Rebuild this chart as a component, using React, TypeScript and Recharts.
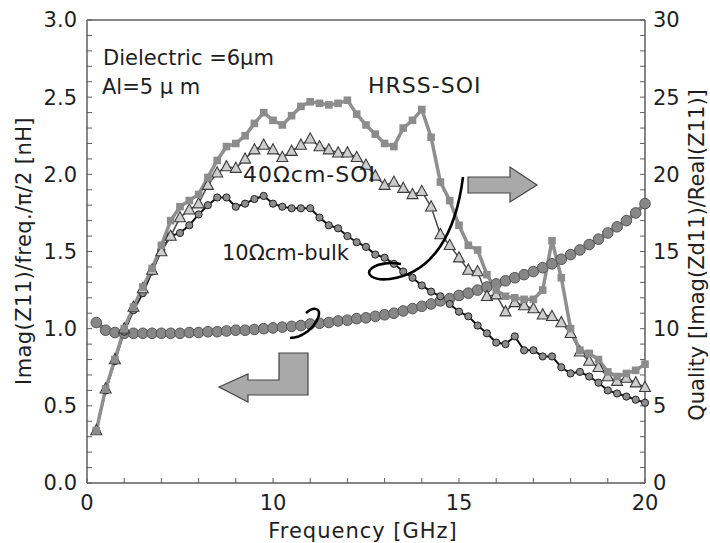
import React from 'react';
import { LineChart, Line, XAxis, YAxis, ReferenceLine } from 'recharts';

// x position along the axis (axis has 15 minor divisions, labelled 0 / 10 / 15 / 20)
const xPos = [
  0.25, 0.5, 0.75, 1.0, 1.25, 1.5, 1.75, 2.0, 2.25, 2.5, 2.75, 3.0, 3.25, 3.5, 3.75,
  4.0, 4.25, 4.5, 4.75, 5.0, 5.25, 5.5, 5.75, 6.0, 6.25, 6.5, 6.75, 7.0, 7.25, 7.5,
  7.75, 8.0, 8.25, 8.5, 8.75, 9.0, 9.25, 9.5, 9.75, 10.0, 10.25, 10.5, 10.75, 11.0, 11.25,
  11.5, 11.75, 12.0, 12.25, 12.5, 12.75, 13.0, 13.25, 13.5, 13.75, 14.0, 14.25, 14.5, 14.75, 15.0,
];
const xTickValues = [0, 1, 2, 3, 4, 5, 6, 7, 8, 9, 10, 11, 12, 13, 14, 15];
const xTickLabels: Record<number, string> = { 0: '0', 5: '10', 10: '15', 15: '20' };

// Imag(Z11)/freq./pi/2 [nH]
const hrssSoi = [
  0.34, 0.61, 0.80, 1.00, 1.14, 1.27, 1.39, 1.54, 1.70, 1.79, 1.83, 1.87, 1.98, 2.09, 2.18,
  2.20, 2.25, 2.33, 2.40, 2.35, 2.32, 2.38, 2.44, 2.47, 2.46, 2.45, 2.46, 2.48, 2.39, 2.32,
  2.26, 2.20, 2.18, 2.30, 2.35, 2.42, 2.24, 1.95, 1.83, 1.67, 1.54, 1.51, 1.35, 1.25, 1.21,
  1.20, 1.19, 1.19, 1.25, 1.57, 1.33, 1.00, 0.86, 0.84, 0.80, 0.72, 0.69, 0.71, 0.73, 0.77,
];
const soi40 = [
  0.34, 0.61, 0.80, 1.00, 1.14, 1.26, 1.38, 1.50, 1.60, 1.72, 1.77, 1.81, 1.93, 2.01, 2.05,
  2.04, 2.10, 2.16, 2.19, 2.16, 2.11, 2.15, 2.19, 2.23, 2.18, 2.16, 2.14, 2.14, 2.11, 2.06,
  1.99, 1.93, 1.95, 1.91, 1.87, 1.89, 1.79, 1.61, 1.54, 1.46, 1.38, 1.37, 1.21, 1.22, 1.11,
  1.17, 1.15, 1.13, 1.09, 1.08, 1.04, 0.97, 0.85, 0.79, 0.75, 0.69, 0.66, 0.68, 0.65, 0.62,
];
const bulk10 = [
  0.34, 0.60, 0.79, 0.98, 1.12, 1.23, 1.37, 1.51, 1.60, 1.62, 1.67, 1.74, 1.80, 1.85, 1.85,
  1.79, 1.81, 1.84, 1.86, 1.81, 1.79, 1.78, 1.78, 1.78, 1.72, 1.67, 1.65, 1.60, 1.56, 1.53,
  1.48, 1.46, 1.42, 1.37, 1.33, 1.28, 1.24, 1.21, 1.16, 1.11, 1.08, 1.02, 0.97, 0.91, 0.90,
  0.95, 0.86, 0.86, 0.82, 0.82, 0.75, 0.71, 0.72, 0.69, 0.65, 0.60, 0.58, 0.56, 0.54, 0.52,
];
// Quality [Imag(Zd11)/Real(Z11)]
const quality = [
  10.4, 9.9, 9.75, 9.7, 9.7, 9.7, 9.7, 9.7, 9.7, 9.7, 9.75, 9.75, 9.8, 9.8, 9.85,
  9.9, 9.9, 9.95, 10.0, 10.05, 10.1, 10.15, 10.2, 10.3, 10.35, 10.4, 10.5, 10.55, 10.65, 10.7,
  10.8, 10.9, 11.0, 11.15, 11.3, 11.45, 11.6, 11.8, 11.95, 12.15, 12.3, 12.5, 12.7, 12.9, 13.1,
  13.3, 13.5, 13.7, 13.95, 14.2, 14.5, 14.8, 15.1, 15.45, 15.8, 16.2, 16.6, 17.0, 17.5, 18.1,
];

const leftTickValues = Array.from({ length: 31 }, (_, k) => k / 10);
const rightTickValues = Array.from({ length: 31 }, (_, k) => k);

const data = xPos.map((x, i) => ({
  x,
  hrss: hrssSoi[i],
  soi40: soi40[i],
  bulk: bulk10[i],
  q: quality[i],
}));

const FONT = '"DejaVu Sans", "Liberation Sans", sans-serif';
const AXIS = '#5e5e5e';
const TXT = '#1e1e1e';

const SquareDot = (p: any) => {
  const { cx, cy, index } = p;
  if (cx == null || cy == null) return <g key={`s${index}`} />;
  return <rect key={`s${index}`} x={cx - 3.8} y={cy - 3.8} width={7.6} height={7.6} fill="#8c8c8c" />;
};
const TriDot = (p: any) => {
  const { cx, cy, index } = p;
  if (cx == null || cy == null) return <g key={`t${index}`} />;
  return (
    <polygon
      key={`t${index}`}
      points={`${cx},${cy - 6} ${cx - 5.5},${cy + 4.2} ${cx + 5.5},${cy + 4.2}`}
      fill="#cdcdcd"
      stroke="#3a3a3a"
      strokeWidth={1.1}
    />
  );
};
const SmallCircle = (p: any) => {
  const { cx, cy, index } = p;
  if (cx == null || cy == null) return <g key={`c${index}`} />;
  return <circle key={`c${index}`} cx={cx} cy={cy} r={3.6} fill="#8c8c8c" stroke="#222" strokeWidth={1} />;
};
const BigCircle = (p: any) => {
  const { cx, cy, index } = p;
  if (cx == null || cy == null) return <g key={`q${index}`} />;
  return <circle key={`q${index}`} cx={cx} cy={cy} r={5.3} fill="#878787" stroke="#555" strokeWidth={1} />;
};

const tickStyle = { fontSize: 21, fill: TXT, fontFamily: FONT };

const LeftLabel = () => (
  <text
    x={16}
    y={243}
    transform="rotate(-90, 16, 243)"
    textAnchor="middle"
    dominantBaseline="central"
    fontSize={21}
    letterSpacing={0.4}
    fontFamily={FONT}
    fill={TXT}
  >
    Imag(Z11)/freq./π/2 [nH]
  </text>
);
const RightLabel = () => (
  <text
    x={689}
    y={247}
    transform="rotate(-90, 689, 247)"
    textAnchor="middle"
    dominantBaseline="central"
    fontSize={21}
    fontFamily={FONT}
    fill={TXT}
  >
    Quality [Imag(Zd11)/Real(Z11)]
  </text>
);
const BottomLabel = () => (
  <text
    x={355}
    y={523}
    textAnchor="middle"
    dominantBaseline="central"
    fontSize={21}
    letterSpacing={1}
    fontFamily={FONT}
    fill={TXT}
  >
    Frequency [GHz]
  </text>
);

export default function App() {
  return (
    <div style={{ position: 'absolute', left: 8, top: 8, width: 702, height: 535 }}>
      <LineChart width={702} height={535} data={data} margin={{ top: 12, right: 0, bottom: 0, left: 0 }}>
        <XAxis
          dataKey="x"
          type="number"
          domain={[0, 15]}
          ticks={xTickValues}
          interval={0}
          tickSize={-5}
          tickMargin={17}
          height={60}
          tick={tickStyle}
          tickFormatter={(v: number) => xTickLabels[v] ?? ''}
          axisLine={{ stroke: AXIS, strokeWidth: 1.5 }}
          tickLine={{ stroke: AXIS, strokeWidth: 1 }}
          label={<BottomLabel />}
        />
        <YAxis
          yAxisId="left"
          domain={[0, 3]}
          ticks={leftTickValues}
          interval={0}
          width={79}
          tickSize={-5}
          tickMargin={15}
          tick={tickStyle}
          tickFormatter={(v: number, i: number) => (i % 5 === 0 ? v.toFixed(1) : '')}
          axisLine={{ stroke: AXIS, strokeWidth: 1.5 }}
          tickLine={{ stroke: AXIS, strokeWidth: 1 }}
          label={<LeftLabel />}
        />
        <YAxis
          yAxisId="right"
          orientation="right"
          domain={[0, 30]}
          ticks={rightTickValues}
          interval={0}
          width={65}
          tickSize={-5}
          tickMargin={13}
          tick={tickStyle}
          tickFormatter={(v: number, i: number) => (i % 5 === 0 ? String(v) : '')}
          axisLine={{ stroke: AXIS, strokeWidth: 1.5 }}
          tickLine={{ stroke: AXIS, strokeWidth: 1 }}
          label={<RightLabel />}
        />
        <ReferenceLine yAxisId="left" y={3} stroke={AXIS} strokeWidth={1.5} />
        <Line
          yAxisId="right"
          dataKey="q"
          type="linear"
          stroke="#808080"
          strokeWidth={4}
          dot={BigCircle}
          isAnimationActive={false}
        />
        <Line
          yAxisId="left"
          dataKey="bulk"
          type="linear"
          stroke="#111"
          strokeWidth={2}
          dot={SmallCircle}
          isAnimationActive={false}
        />
        <Line
          yAxisId="left"
          dataKey="soi40"
          type="linear"
          stroke="#4a4a4a"
          strokeWidth={1.5}
          dot={TriDot}
          isAnimationActive={false}
        />
        <Line
          yAxisId="left"
          dataKey="hrss"
          type="linear"
          stroke="#8f8f8f"
          strokeWidth={3.5}
          dot={SquareDot}
          isAnimationActive={false}
        />
      </LineChart>
      <svg
        width={702}
        height={535}
        style={{ position: 'absolute', left: 0, top: 0, pointerEvents: 'none' }}
      >
        <g fontFamily={FONT} fontSize={21} fill={TXT}>
          <text x={95} y={57}>Dielectric =6μm</text>
          <text x={94} y={86}>Al=5 μ m</text>
          <text x={360} y={85} fontSize={22} letterSpacing={1}>HRSS-SOI</text>
          <text x={235} y={174} fontSize={22} letterSpacing={1}>40Ωcm-SOI</text>
          <text x={214} y={252} fontSize={21}>10Ωcm-bulk</text>
        </g>
        <path
          d="M 455,169 C 448,225 425,265 382,271 C 365,273 356,266 364,260 C 371,255 383,254 393,256"
          fill="none"
          stroke="#000"
          strokeWidth={2.6}
        />
        <path
          d="M 298,305 C 306,298 314,300 310,310 C 306,320 294,330 282,330"
          fill="none"
          stroke="#000"
          strokeWidth={2.6}
        />
        <polygon
          points="460,169 502,169 502,159 529,177 502,194 502,185 460,185"
          fill="#a9a9a9"
          stroke="#444"
          strokeWidth={1.2}
        />
        <polygon
          points="211,379 240,366 240,372 271,372 271,345 300,345 300,387 240,387 240,394"
          fill="#a9a9a9"
          stroke="#444"
          strokeWidth={1.2}
        />
      </svg>
    </div>
  );
}
